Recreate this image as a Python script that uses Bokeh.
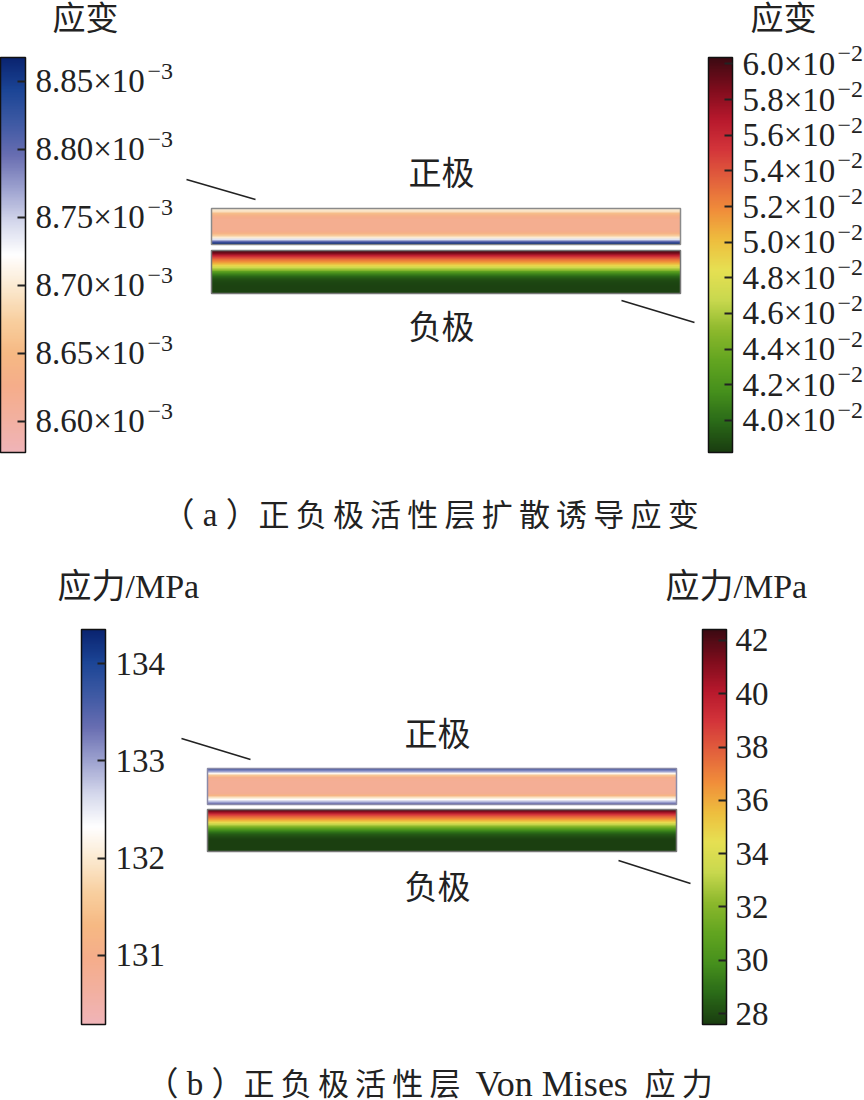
import numpy as np
from bokeh.core.properties import value
from bokeh.embed import file_html
from bokeh.models import ColorBar, FixedTicker, LinearColorMapper, Range1d
from bokeh.plotting import figure
from bokeh.resources import INLINE

# colour scales (bar top to bottom)
cathode_colors = ["#0a2470", "#1c4596", "#3f5aa4", "#6a6fb2", "#9ea3d0", "#d5d8ec", "#ffffff",
                  "#fbe9cf", "#f8cf9f", "#f6b983", "#f5ad8a", "#f2b0a0", "#f0b4b8"]
anode_colors = ["#3c0a12", "#7d0c1c", "#b6182c", "#d3343a", "#e2603c", "#f08c3a", "#eebd3e", "#e6e052",
                "#c8d84e", "#8cb82c", "#62a520", "#46901c", "#2a6a18", "#1a3d10"]

# (a) strain
strain_cathode_ticks = [8.85, 8.80, 8.75, 8.70, 8.65, 8.60]
strain_cathode_range = (8.577, 8.8676)
strain_anode_ticks = [6.0, 5.8, 5.6, 5.4, 5.2, 5.0, 4.8, 4.6, 4.4, 4.2, 4.0]
strain_anode_range = (3.82, 6.036)
# (b) stress
stress_cathode_ticks = [134, 133, 132, 131]
stress_cathode_range = (130.29, 134.35)
stress_anode_ticks = [42, 40, 38, 36, 34, 32, 30, 28]
stress_anode_range = (27.59, 42.41)

# through-thickness profiles, top to bottom, one value per 2px row
strain_cathode_profile = [8.70, 8.69, 8.655, 8.635, 8.625, 8.62, 8.62, 8.62, 8.62, 8.62, 8.62, 8.625,
                          8.64, 8.67, 8.70, 8.74, 8.80, 8.86]
strain_anode_profile = [5.98, 5.85, 5.65, 5.45, 5.3, 5.18, 5.05, 4.9, 4.72, 4.55, 4.38, 4.22, 4.08, 3.98,
                        3.92, 3.88, 3.86, 3.85, 3.84, 3.84, 3.84, 3.84]
stress_cathode_profile = [133.5, 133.0, 132.2, 131.5, 131.0, 130.85, 130.8, 130.8, 130.8, 130.8, 130.8, 130.8,
                          130.85, 131.2, 131.9, 132.3, 132.8, 133.3]
stress_anode_profile = [41.8, 40.5, 39.0, 37.8, 36.8, 35.8, 34.6, 33.2, 32.0, 30.8, 29.7, 28.9, 28.3, 28.0,
                        27.8, 27.7, 27.7, 27.65, 27.65, 27.65, 27.65]

W, H = 864, 1100
SERIF = "Liberation Serif"
CJK = "Noto Sans CJK SC"
MIXED = "Liberation Serif, Noto Sans CJK SC"
INK = "#222222"

p = figure(width=W, height=H, x_range=Range1d(0, W), y_range=Range1d(0, H),
           x_axis_type=None, y_axis_type=None, toolbar_location=None, output_backend="svg",
           min_border=0, outline_line_color=None, background_fill_color="white", border_fill_color="white")
p.grid.visible = False


def Y(py):
    return H - py


def ramp(stops, n=256):
    pos = np.linspace(0, 1, len(stops))
    rgb = np.array([[int(c[i:i + 2], 16) for i in (1, 3, 5)] for c in stops], float)
    t = np.linspace(1, 0, n)
    return ["#%02x%02x%02x" % tuple(int(round(np.interp(v, pos, rgb[:, k]))) for k in range(3)) for v in t]


def bar(stops, rng, ticks, x, w, top, bot):
    mapper = LinearColorMapper(palette=ramp(stops), low=rng[0], high=rng[1])
    cb = ColorBar(color_mapper=mapper, ticker=FixedTicker(ticks=ticks), location=(x, Y(bot)),
                  width=w, height=bot - top, padding=0, margin=0,
                  major_tick_in=8, major_tick_out=0, major_tick_line_color="#222222", major_tick_line_width=2,
                  minor_tick_line_color=None, major_label_text_color=None, major_label_text_font_size="1px",
                  bar_line_color="#111111", bar_line_width=1.5,
                  border_line_color=None, background_fill_color=None)
    p.add_layout(cb, "center")
    return mapper, lambda v: top + (rng[1] - v) / (rng[1] - rng[0]) * (bot - top)


def labels(tick_y, texts, x, size=33):
    p.text(x=[x] * len(texts), y=[Y(tick_y(t)) for t, _ in texts], text=[s for _, s in texts],
           text_font=value(SERIF), text_font_size=f"{size}px", text_baseline="middle", text_color=INK)


def exponents(tick_y, ticks, x, exp):
    p.text(x=[x] * len(ticks), y=[Y(tick_y(t) - 10) for t in ticks], text=[exp] * len(ticks),
           text_font=value(SERIF), text_font_size="24px", text_baseline="middle", text_color=INK)


def stripe(profile, mapper, x0, x1, top, bot, border):
    arr = np.array(profile[::-1])[:, None]
    p.image(image=[arr], x=x0, y=Y(bot), dw=x1 - x0, dh=bot - top, color_mapper=mapper)
    p.quad(left=[x0], right=[x1], top=[Y(top)], bottom=[Y(bot)], fill_color=None,
           line_color=border, line_width=1.5)


def label(x, py, s, size=33, font=CJK, align="left"):
    p.text(x=[x], y=[Y(py)], text=[s], text_font=value(font), text_font_size=f"{size}px",
           text_baseline="middle", text_align=align, text_color=INK)


def leader(x0, y0, x1, y1):
    p.line([x0, x1], [Y(y0), Y(y1)], line_color="#222222", line_width=1.6)


# panel (a)
m1, y1 = bar(cathode_colors, strain_cathode_range, strain_cathode_ticks, 0, 25, 57, 452)
labels(y1, [(t, f"{t:.2f}×10") for t in strain_cathode_ticks], 35)
exponents(y1, strain_cathode_ticks, 147, "−3")
m2, y2 = bar(anode_colors, strain_anode_range, strain_anode_ticks, 708, 24, 57, 452)
labels(y2, [(t, f"{t:.1f}×10") for t in strain_anode_ticks], 742)
exponents(y2, strain_anode_ticks, 837, "−2")
label(52, 15, "应变")
label(750, 15, "应变")
stripe(strain_cathode_profile, m1, 211, 680, 208, 244, "#8a8a8a")
stripe(strain_anode_profile, m2, 211, 680, 250, 293, "#777777")
label(408, 170, "正极")
label(408, 324, "负极")
leader(186, 179, 255, 199)
leader(621, 300, 694, 322)
label(161, 514, "（ a ）", 33, MIXED)
label(258, 512, "正\u2009负\u2009极\u2009活\u2009性\u2009层\u2009扩\u2009散\u2009诱\u2009导\u2009应\u2009变", 31, CJK)

# panel (b)
m3, y3 = bar(cathode_colors, stress_cathode_range, stress_cathode_ticks, 81, 24, 629, 1024)
labels(y3, [(t, str(t)) for t in stress_cathode_ticks], 115)
m4, y4 = bar(anode_colors, stress_anode_range, stress_anode_ticks, 702, 24, 629, 1024)
labels(y4, [(t, str(t)) for t in stress_anode_ticks], 735)
label(57, 586, "应力/MPa", 34, MIXED)
label(665, 586, "应力/MPa", 34, MIXED)
stripe(stress_cathode_profile, m3, 207, 676, 768, 804, "#8a8aa8")
stripe(stress_anode_profile, m4, 207, 676, 809, 851, "#777777")
label(404, 731, "正极")
label(404, 884, "负极")
leader(181, 738, 250, 759)
leader(618, 860, 690, 883)
label(145, 1083, "（ b ）", 33, MIXED)
label(243, 1081, "正\u2009负\u2009极\u2009活\u2009性\u2009层", 31, CJK)
label(475, 1083, "Von Mises", 36, SERIF)
label(644, 1081, "应\u2009力", 31, CJK)

open("out.html", "w").write(file_html(p, INLINE))
